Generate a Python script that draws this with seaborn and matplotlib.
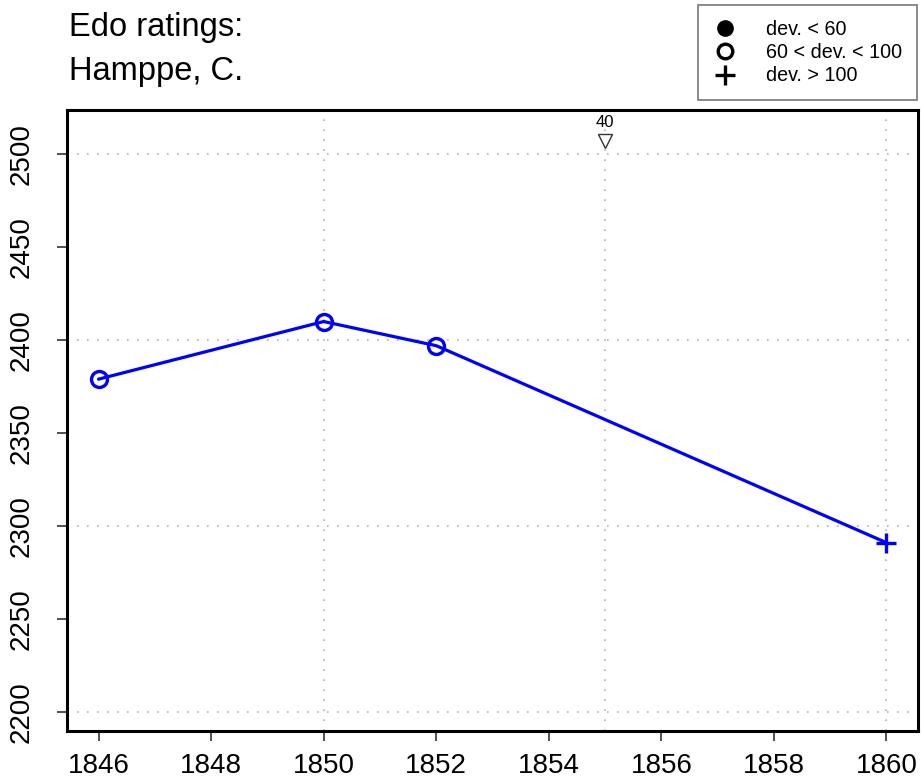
import matplotlib
matplotlib.use("Agg")
import matplotlib.pyplot as plt
from matplotlib.lines import Line2D
import pandas as pd
import seaborn as sns

# ratings by year
years   = [1846, 1850, 1852, 1860]
ratings = [2379, 2410, 2397, 2291]
dev_cls = ["mid", "mid", "mid", "high"]   # mid: 60 < dev < 100, high: dev > 100

# off-scale marker (games count)
off_year   = [1855]
off_rating = [2507]
off_label  = ["40"]

x_ticks = list(range(1846, 1861, 2))
y_ticks = list(range(2200, 2501, 50))
x_grid  = [1850, 1855, 1860]
y_grid  = [2200, 2300, 2400, 2500]

legend_labels = ["dev. < 60", "60 < dev. < 100", "dev. > 100"]

sns.set_style("white")
plt.rcParams["font.family"] = ["Liberation Sans", "DejaVu Sans"]
plt.rcParams["text.color"] = "black"
plt.rcParams["xtick.color"] = "black"
plt.rcParams["ytick.color"] = "black"

df = pd.DataFrame({"year": years, "rating": ratings, "dev": dev_cls})

fig = plt.figure(figsize=(9.21, 7.82), dpi=100)
ax = fig.add_axes([67 / 921, 1 - 731 / 782, (918 - 67) / 921, (731 - 110) / 782])

for gx in x_grid:
    ax.axvline(gx, color="#b0b0b0", lw=1.2, ls=(0, (1, 5)), zorder=0)
for gy in y_grid:
    ax.axhline(gy, color="#b0b0b0", lw=1.2, ls=(0, (1, 5)), zorder=0)

sns.lineplot(data=df, x="year", y="rating", ax=ax, color="#0000ff", lw=2.3,
             sort=False, zorder=2)

style = {"mid": dict(marker="o", mfc="none", ms=11.5, mew=2.4),
         "high": dict(marker="+", ms=15, mew=2.4)}
for cls, sub in df.groupby("dev"):
    ax.plot(sub["year"], sub["rating"], ls="none", color="#0000ff",
            zorder=3, **style[cls])

ax.plot(off_year, off_rating, ls="none", marker="v", mfc="white", mec="#333333",
        ms=10.5, mew=1.0, zorder=3)
for xo, yo, lab in zip(off_year, off_rating, off_label):
    ax.annotate(lab, (xo, yo), xytext=(0, 8), textcoords="offset points",
                ha="center", va="bottom", fontsize=12)

ax.set_xlim(1845.44, 1860.56)
ax.set_ylim(2189.7, 2523.8)
ax.set_xticks(x_ticks)
ax.set_yticks(y_ticks)
ax.tick_params(axis="both", direction="out", length=7, width=1.2,
               labelsize=20, color="#333333")
ax.tick_params(axis="x", pad=9)
ax.tick_params(axis="y", pad=16)
ax.tick_params(left=True, bottom=True)
for lab in ax.get_yticklabels():
    lab.set_rotation(90)
    lab.set_va("center")
ax.set_xlabel("")
ax.set_ylabel("")
for sp in ax.spines.values():
    sp.set_visible(True)
    sp.set_color("black")
    sp.set_linewidth(2.2)

fig.text(69 / 921, 1 - 36 / 782, "Edo ratings:", fontsize=23.5, va="baseline")
fig.text(69 / 921, 1 - 80 / 782, "Hamppe, C.", fontsize=23.5, va="baseline")

handles = [
    Line2D([], [], ls="none", marker="o", color="black", ms=11),
    Line2D([], [], ls="none", marker="o", mfc="none", mec="black", ms=10.5, mew=2.4),
    Line2D([], [], ls="none", marker="+", color="black", ms=15, mew=2.4),
]
leg = fig.legend(handles, legend_labels, loc="upper right",
                 bbox_to_anchor=(917 / 921, 1 - 5 / 782),
                 bbox_transform=fig.transFigure, fontsize=14.2,
                 frameon=True, fancybox=False, borderaxespad=0,
                 handletextpad=1.5, labelspacing=0.22, borderpad=0.75,
                 handlelength=1.2)
leg.get_frame().set_edgecolor("#555555")
leg.get_frame().set_linewidth(1.2)

fig.savefig("out.png", dpi=100)
